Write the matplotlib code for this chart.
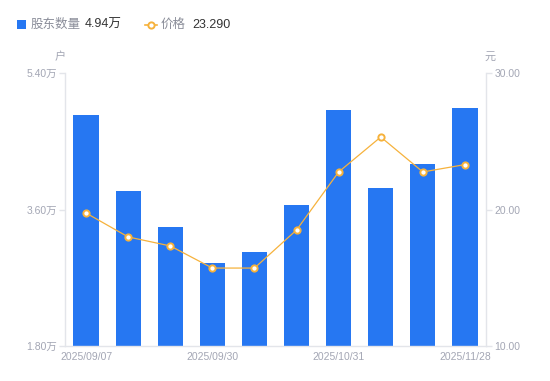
import matplotlib
matplotlib.use("Agg")
import matplotlib.pyplot as plt
from matplotlib.lines import Line2D
from matplotlib.patches import Rectangle

plt.rcParams['font.family'] = ['Liberation Sans', 'Noto Sans CJK SC', 'DejaVu Sans']

dates = ["2025/09/07", "2025/09/15", "2025/09/20", "2025/09/30", "2025/10/10",
         "2025/10/20", "2025/10/31", "2025/11/10", "2025/11/20", "2025/11/28"]
holders = [4.85, 3.845, 3.37, 2.895, 3.04, 3.66, 4.91, 3.88, 4.20, 4.94]  # 万户
price = [19.74, 17.99, 17.33, 15.71, 15.71, 18.50, 22.75, 25.31, 22.75, 23.29]
shown_ticks = [0, 3, 6, 9]
left_ticks = [1.80, 3.60, 5.40]
right_ticks = [10.0, 20.0, 30.0]

bar_color = "#2677F2"
line_color = "#F6B23C"
tick_color = "#A3A6B4"
axis_color = "#E3E5EA"

fig = plt.figure(figsize=(5.5, 3.81), dpi=100)
ax = fig.add_axes([65/550, 35/381, 421/550, 273/381])
x = list(range(len(dates)))
ax.bar(x, holders, width=0.6, color=bar_color, bottom=0, zorder=2)
ax.set_ylim(left_ticks[0], left_ticks[-1])
ax.set_xlim(-0.5, len(dates) - 0.5)
ax.set_yticks(left_ticks)
ax.set_yticklabels([f"{v:.2f}万" for v in left_ticks])
ax.set_xticks(shown_ticks)
ax.set_xticklabels([dates[i] for i in shown_ticks])

ax2 = ax.twinx()
ax2.plot(x, price, color=line_color, lw=0.9, marker='o', ms=4.5,
         mfc='white', mec=line_color, mew=1.4, zorder=3)
ax2.set_ylim(right_ticks[0], right_ticks[-1])
ax2.set_yticks(right_ticks)
ax2.set_yticklabels([f"{v:.2f}" for v in right_ticks])

for a in (ax, ax2):
    for s in a.spines.values():
        s.set_visible(False)
ax.spines['left'].set_visible(True)
ax.spines['bottom'].set_visible(True)
ax2.spines['right'].set_visible(True)
for s in (ax.spines['left'], ax.spines['bottom'], ax2.spines['right']):
    s.set_color(axis_color)
    s.set_linewidth(1)

ax.tick_params(axis='y', length=4, width=1, color=axis_color, labelcolor=tick_color,
               labelsize=7.5, pad=2)
ax.tick_params(axis='x', length=0, labelcolor=tick_color, labelsize=7.5, pad=4)
ax2.tick_params(axis='y', length=4, width=1, color=axis_color, labelcolor=tick_color,
                labelsize=7.5, pad=2)

fig.text(60/550, 1 - 57/381, "户", ha='center', va='center', fontsize=8, color=tick_color)
fig.text(490/550, 1 - 57/381, "元", ha='center', va='center', fontsize=8, color=tick_color)

# legend
fig.patches.append(Rectangle((17/550, 1 - 29/381), 9/550, 9/381, transform=fig.transFigure,
                             facecolor=bar_color, edgecolor='none'))
fig.text(31/550, 1 - 24.5/381, "股东数量", ha='left', va='center', fontsize=9, color="#8A8D99")
fig.text(85/550, 1 - 24.5/381, f"{holders[-1]:.2f}万", ha='left', va='center', fontsize=9, color="#333333")
fig.lines.append(Line2D([145/550, 157/550], [1 - 24.5/381, 1 - 24.5/381], transform=fig.transFigure,
                        color=line_color, lw=1.2, marker='o', markevery=[0], ms=0))
fig.lines.append(Line2D([151/550], [1 - 24.5/381], transform=fig.transFigure,
                        color=line_color, marker='o', ms=4.5, mfc='white', mec=line_color, mew=1.4))
fig.text(161/550, 1 - 24.5/381, "价格", ha='left', va='center', fontsize=9, color="#8A8D99")
fig.text(192/550, 1 - 24.5/381, f"{price[-1]:.3f}", ha='left', va='center', fontsize=9, color="#333333")

fig.savefig("out.png", dpi=100)
